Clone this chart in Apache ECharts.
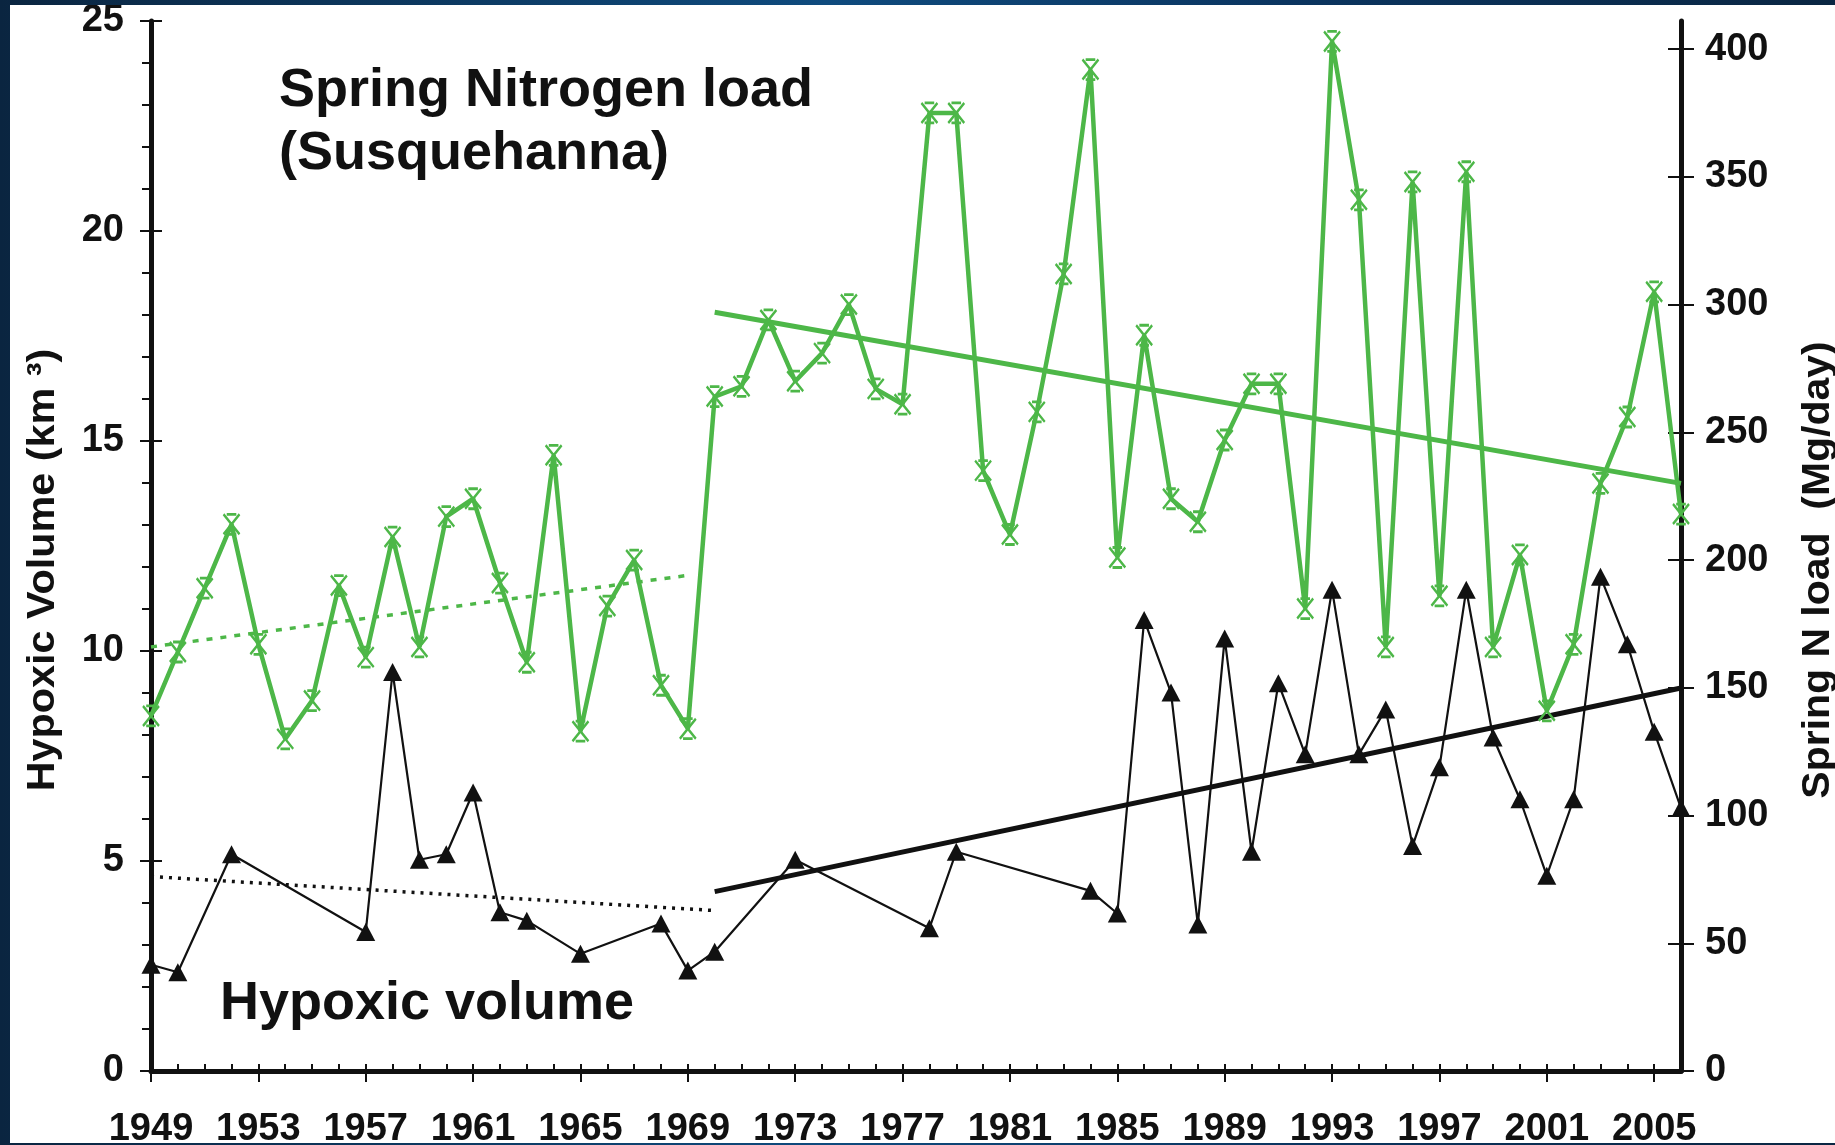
<!DOCTYPE html>
<html>
<head>
    <meta charset="utf-8">
    <title>Hypoxic volume and spring N load</title>
    <script src="https://cdn.jsdelivr.net/npm/echarts@6/dist/echarts.min.js"></script>
    <style>
        html, body { margin: 0; padding: 0; width: 1835px; height: 1145px; overflow: hidden;
            background: linear-gradient(90deg, #0a2540 0%, #0f4b7e 45%, #0b3560 70%, #0a2642 100%); }
        #main { position: absolute; left: 10px; top: 5px; width: 1825px; height: 1138px; background: #fff; }
    </style>
</head>
<body>
<div id="main"></div>
<script>
    // years on the x axis (category)
    var years = ['1949','1950','1951','1952','1953','1954','1955','1956','1957','1958',
        '1959','1960','1961','1962','1963','1964','1965','1966','1967','1968',
        '1969','1970','1971','1972','1973','1974','1975','1976','1977','1978',
        '1979','1980','1981','1982','1983','1984','1985','1986','1987','1988',
        '1989','1990','1991','1992','1993','1994','1995','1996','1997','1998',
        '1999','2000','2001','2002','2003','2004','2005','2006'];

    // spring N load, Mg/day (right axis), one value per year
    var nLoad = [139, 164, 189, 214, 167, 130, 145, 190, 162, 209,
        166, 217, 224, 191, 160, 241, 133, 182, 200, 151,
        134, 264, 268, 294, 270, 281, 300, 267, 261, 375,
        375, 235, 210, 258, 312, 392, 201, 288, 224, 215,
        247, 269, 269, 181, 403, 341, 166, 348, 186, 352,
        166, 202, 141, 167, 230, 256, 305, 218];

    // hypoxic volume, km3 (left axis), only years with data
    var hypYears = ['1949','1950','1952','1957','1958','1959','1960','1961','1962','1963',
        '1965','1968','1969','1970','1973','1978','1979','1984','1985','1986',
        '1987','1988','1989','1990','1991','1992','1993','1994','1995','1996',
        '1997','1998','1999','2000','2001','2002','2003','2004','2005','2006'];
    var hypVals = [2.53, 2.35, 5.16, 3.31, 9.5, 5.03, 5.16, 6.63, 3.78, 3.58,
        2.79, 3.51, 2.39, 2.84, 5.03, 3.40, 5.22, 4.29, 3.75, 10.74,
        9.01, 3.49, 10.3, 5.22, 9.23, 7.54, 11.46, 7.54, 8.61, 5.36,
        7.23, 11.46, 7.94, 6.47, 4.65, 6.47, 11.77, 10.16, 8.08, 6.26];

    // trend lines (end points)
    var nTrendEarly = [['1949', 166], ['1969', 194]];
    var nTrendLate = [['1970', 297], ['2006', 230]];
    var hypTrendEarly = [['1949', 4.63], ['1970', 3.82]];
    var hypTrendLate = [['1970', 4.27], ['2006', 9.12]];

    var rightTicks = [0, 50, 100, 150, 200, 250, 300, 350, 400];

    var GREEN = '#4db748';
    var INK = '#111111';
    var FONT = '"Liberation Sans", Arial, sans-serif';

    var hypData = hypYears.map(function (y, i) { return [y, hypVals[i]]; });

    var lblStyle = { color: INK, fontSize: 38, fontWeight: 'bold', fontFamily: FONT };

    var myChart = echarts.init(document.getElementById('main'));
    var option = {
        animation: false,
        backgroundColor: '#ffffff',
        grid: { left: 141, right: 154, top: 16, bottom: 72, containLabel: false, outerBoundsMode: 'none' },
        xAxis: [{
            type: 'category', data: years, boundaryGap: false, position: 'bottom',
            axisLine: { show: true, lineStyle: { color: INK, width: 5 } },
            axisTick: { show: true, inside: false, length: 11, interval: 3, lineStyle: { color: INK, width: 2 } },
            axisLabel: Object.assign({ interval: 3, margin: 40 }, lblStyle),
            splitLine: { show: false }
        }, {
            type: 'category', data: years, boundaryGap: false, position: 'bottom', offset: 0,
            axisLine: { show: false },
            axisTick: { show: true, inside: true, length: 7, interval: 0, lineStyle: { color: INK, width: 2 } },
            axisLabel: { show: false },
            splitLine: { show: false }
        }],
        yAxis: [{
            type: 'value', position: 'left', min: 0, max: 25, interval: 5,
            axisLine: { show: true, lineStyle: { color: INK, width: 5 } },
            axisTick: { show: true, length: 11, lineStyle: { color: INK, width: 2 } },
            minorTick: { show: true, splitNumber: 5, length: 9, lineStyle: { color: INK, width: 2 } },
            axisLabel: Object.assign({ margin: 27 }, lblStyle),
            splitLine: { show: false }
        }, {
            type: 'value', position: 'right', min: 0, max: 411, interval: 50,
            axisLine: { show: true, lineStyle: { color: INK, width: 5 } },
            axisTick: { show: true, length: 13, customValues: rightTicks, lineStyle: { color: INK, width: 2 } },
            axisLabel: Object.assign({ margin: 24, customValues: rightTicks }, lblStyle),
            splitLine: { show: false }
        }, {
            type: 'value', position: 'left', offset: 0, min: 0, max: 25, interval: 5,
            axisLine: { show: false },
            axisTick: { show: true, inside: true, length: 11, lineStyle: { color: INK, width: 2 } },
            axisLabel: { show: false },
            splitLine: { show: false }
        }, {
            type: 'value', position: 'right', offset: 0, min: 0, max: 411, interval: 50,
            axisLine: { show: false },
            axisTick: { show: true, inside: true, length: 13, customValues: rightTicks.slice(1), lineStyle: { color: INK, width: 2 } },
            axisLabel: { show: false },
            splitLine: { show: false }
        }],
        graphic: [{
            type: 'text', x: 269, y: 86,
            style: { text: 'Spring Nitrogen load', fill: INK, font: 'bold 54px ' + FONT, textVerticalAlign: 'middle', verticalAlign: 'middle' }
        }, {
            type: 'text', x: 269, y: 149,
            style: { text: '(Susquehanna)', fill: INK, font: 'bold 54px ' + FONT, textVerticalAlign: 'middle', verticalAlign: 'middle' }
        }, {
            type: 'text', x: 210, y: 999,
            style: { text: 'Hypoxic volume', fill: INK, font: 'bold 54px ' + FONT, textVerticalAlign: 'middle', verticalAlign: 'middle' }
        }, {
            type: 'text', x: 33, y: 565, rotation: Math.PI / 2, scaleX: 1.06,
            style: { text: 'Hypoxic Volume (km \u00b3)', fill: INK, font: 'bold 39px ' + FONT,
                textAlign: 'center', align: 'center', textVerticalAlign: 'middle', verticalAlign: 'middle' }
        }, {
            type: 'text', x: 1808, y: 565, rotation: Math.PI / 2, scaleX: 1.05,
            style: { text: 'Spring N load  (Mg/day)', fill: INK, font: 'bold 39px ' + FONT,
                textAlign: 'center', align: 'center', textVerticalAlign: 'middle', verticalAlign: 'middle' }
        }],
        series: [{
            name: 'hyp trend early', type: 'line', xAxisIndex: 0, yAxisIndex: 0,
            data: hypTrendEarly, symbol: 'none',
            lineStyle: { color: INK, width: 3.5, type: [3, 6] }, z: 3
        }, {
            name: 'hyp trend late', type: 'line', xAxisIndex: 0, yAxisIndex: 0,
            data: hypTrendLate, symbol: 'none',
            lineStyle: { color: INK, width: 5 }, z: 3
        }, {
            name: 'Hypoxic volume', type: 'line', xAxisIndex: 0, yAxisIndex: 0,
            data: hypData, symbol: 'triangle', symbolSize: [19, 18], showAllSymbol: true,
            lineStyle: { color: INK, width: 2.2 }, itemStyle: { color: INK }, z: 4
        }, {
            name: 'N trend early', type: 'line', xAxisIndex: 0, yAxisIndex: 1,
            data: nTrendEarly, symbol: 'none',
            lineStyle: { color: GREEN, width: 3.5, type: [6, 8] }, z: 5
        }, {
            name: 'N trend late', type: 'line', xAxisIndex: 0, yAxisIndex: 1,
            data: nTrendLate, symbol: 'none',
            lineStyle: { color: GREEN, width: 5 }, z: 5
        }, {
            name: 'Spring N load', type: 'line', xAxisIndex: 0, yAxisIndex: 1,
            data: nLoad, showAllSymbol: true,
            symbol: 'path://M2,0L8,0M2,12L8,12M0,0L10,12M10,0L0,12', symbolSize: [16, 20],
            lineStyle: { color: GREEN, width: 4.5 },
            itemStyle: { color: GREEN, borderColor: GREEN, borderWidth: 2.5 }, z: 6
        }]
    };
    myChart.setOption(option);
</script>
</body>
</html>
